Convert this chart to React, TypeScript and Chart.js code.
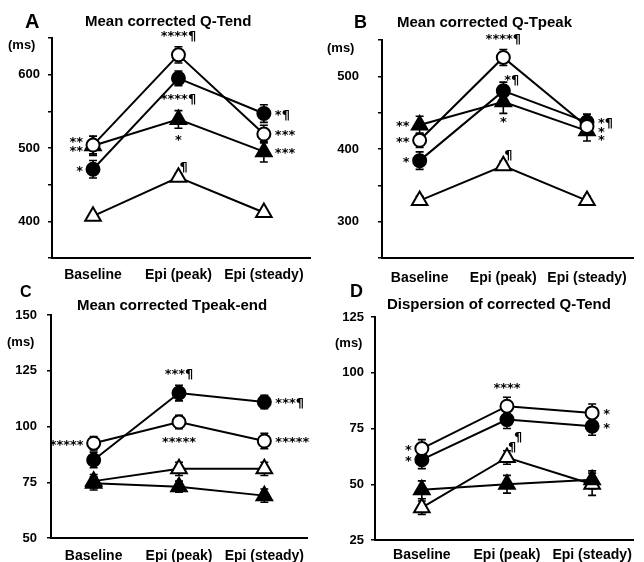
import React, { useEffect, useRef } from "react";
import { Chart, registerables } from "chart.js";

Chart.register(...registerables);

const categories = ["Baseline", "Epi (peak)", "Epi (steady)"];

// Series order in every panel: 0 open circle, 1 filled circle, 2 filled triangle, 3 open triangle

// A: Mean corrected Q-Tend (ms)
const qTendOpenCircle = [504, 627, 519];
const qTendOpenCircleErr = [12, 11, 12];
const qTendFilledCircle = [471, 595, 547];
const qTendFilledCircleErr = [12, 10, 12];
const qTendFilledTriangle = [503, 539, 495];
const qTendFilledTriangleErr = [13, 12, 14];
const qTendOpenTriangle = [407, 460, 412];
const qTendOpenTriangleErr = [4, 5, 4];
const qTendTickLabels = [400, 500, 600];
const qTendNotes = [
  { series: 0, cat: 1, text: "****¶", pos: "above" },
  { series: 1, cat: 1, text: "****¶", pos: "below" },
  { series: 2, cat: 1, text: "*", pos: "below" },
  { series: 0, cat: 0, text: "**", pos: "left-1" },
  { series: 2, cat: 0, text: "**", pos: "left+1" },
  { series: 1, cat: 0, text: "*", pos: "left" },
  { series: 3, cat: 1, text: "¶", pos: "upright" },
  { series: 1, cat: 2, text: "*¶", pos: "right" },
  { series: 0, cat: 2, text: "***", pos: "right" },
  { series: 2, cat: 2, text: "***", pos: "right" },
];

// B: Mean corrected Q-Tpeak (ms)
const qTpeakOpenCircle = [412, 526, 431];
const qTpeakOpenCircleErr = [10, 11, 10];
const qTpeakFilledCircle = [384, 480, 437];
const qTpeakFilledCircleErr = [12, 12, 11];
const qTpeakFilledTriangle = [433, 465, 425];
const qTpeakFilledTriangleErr = [12, 16, 14];
const qTpeakOpenTriangle = [329, 377, 329];
const qTpeakOpenTriangleErr = [6, 6, 6];
const qTpeakTickLabels = [300, 400, 500];
const qTpeakNotes = [
  { series: 0, cat: 1, text: "****¶", pos: "above" },
  { series: 1, cat: 1, text: "*¶", pos: "upright" },
  { series: 2, cat: 1, text: "*", pos: "below" },
  { series: 2, cat: 0, text: "**", pos: "left" },
  { series: 0, cat: 0, text: "**", pos: "left" },
  { series: 1, cat: 0, text: "*", pos: "left" },
  { series: 3, cat: 1, text: "¶", pos: "upright" },
  { series: 1, cat: 2, text: "*¶", pos: "right" },
  { series: 0, cat: 2, text: "*", pos: "right+1" },
  { series: 2, cat: 2, text: "*", pos: "right+2" },
];

// C: Mean corrected Tpeak-end (ms)
const tpeOpenCircle = [92.5, 102, 93.5];
const tpeOpenCircleErr = [3, 3, 3.5];
const tpeFilledCircle = [85, 115, 111];
const tpeFilledCircleErr = [3.5, 3.5, 3];
const tpeFilledTriangle = [74.5, 73, 69];
const tpeFilledTriangleErr = [3, 2.5, 3];
const tpeOpenTriangle = [75.5, 81, 81];
const tpeOpenTriangleErr = [3, 3, 3];
const tpeTickLabels = [50, 75, 100, 125, 150];
const tpeNotes = [
  { series: 1, cat: 1, text: "***¶", pos: "above" },
  { series: 1, cat: 2, text: "***¶", pos: "right" },
  { series: 0, cat: 1, text: "*****", pos: "below" },
  { series: 0, cat: 0, text: "*****", pos: "left" },
  { series: 0, cat: 2, text: "*****", pos: "right" },
];

// D: Dispersion of corrected Q-Tend (ms)
const dispOpenCircle = [66, 85, 82];
const dispOpenCircleErr = [4, 4, 4];
const dispFilledCircle = [61, 79, 76];
const dispFilledCircleErr = [4, 4, 4];
const dispFilledTriangle = [47.5, 50, 52];
const dispFilledTriangleErr = [4, 4, 4];
const dispOpenTriangle = [39.5, 62, 50];
const dispOpenTriangleErr = [3, 3, 5];
const dispTickLabels = [25, 50, 75, 100, 125];
const dispNotes = [
  { series: 0, cat: 1, text: "****", pos: "above" },
  { series: 0, cat: 2, text: "*", pos: "right" },
  { series: 1, cat: 2, text: "*", pos: "right" },
  { series: 0, cat: 0, text: "*", pos: "left" },
  { series: 1, cat: 0, text: "*", pos: "left" },
  { series: 1, cat: 1, text: "¶", pos: "downright" },
  { series: 3, cat: 1, text: "¶", pos: "upright" },
];

const markers = [
  { style: "circle", filled: false },
  { style: "circle", filled: true },
  { style: "triangle", filled: true },
  { style: "triangle", filled: false },
];

type Panel = {
  letter: string;
  title: string;
  series: { values: number[]; errors: number[] }[];
  yMin: number;
  yMax: number;
  yStep: number;
  yLabels: number[];
  notes: { series: number; cat: number; text: string; pos: string }[];
  box: { x: number; y: number; w: number; h: number };
  area: { left: number; top: number; right: number; bottom: number };
  xRange: [number, number];
  yPad: number;
  xPad: number;
  letterPos: { x: number; y: number; size: number };
  titlePos: { x: number; y: number };
  msPos: { x: number; y: number };
};

const panels: Panel[] = [
  {
    letter: "A",
    title: "Mean corrected Q-Tend",
    series: [
      { values: qTendOpenCircle, errors: qTendOpenCircleErr },
      { values: qTendFilledCircle, errors: qTendFilledCircleErr },
      { values: qTendFilledTriangle, errors: qTendFilledTriangleErr },
      { values: qTendOpenTriangle, errors: qTendOpenTriangleErr },
    ],
    yMin: 350, yMax: 650, yStep: 50, yLabels: qTendTickLabels, notes: qTendNotes,
    box: { x: 0, y: 0, w: 322, h: 290 },
    area: { left: 52, top: 38, right: 310, bottom: 258 },
    xRange: [-0.48, 2.54], yPad: 8, xPad: 9,
    letterPos: { x: 25, y: 28, size: 20 }, titlePos: { x: 85, y: 26 }, msPos: { x: 8, y: 49 },
  },
  {
    letter: "B",
    title: "Mean corrected Q-Tpeak",
    series: [
      { values: qTpeakOpenCircle, errors: qTpeakOpenCircleErr },
      { values: qTpeakFilledCircle, errors: qTpeakFilledCircleErr },
      { values: qTpeakFilledTriangle, errors: qTpeakFilledTriangleErr },
      { values: qTpeakOpenTriangle, errors: qTpeakOpenTriangleErr },
    ],
    yMin: 250, yMax: 550, yStep: 50, yLabels: qTpeakTickLabels, notes: qTpeakNotes,
    box: { x: 322, y: 0, w: 322, h: 290 },
    area: { left: 60, top: 40, right: 321, bottom: 258 },
    xRange: [-0.45, 2.55], yPad: 19, xPad: 12,
    letterPos: { x: 32, y: 28, size: 18 }, titlePos: { x: 75, y: 27 }, msPos: { x: 5, y: 52 },
  },
  {
    letter: "C",
    title: "Mean corrected Tpeak-end",
    series: [
      { values: tpeOpenCircle, errors: tpeOpenCircleErr },
      { values: tpeFilledCircle, errors: tpeFilledCircleErr },
      { values: tpeFilledTriangle, errors: tpeFilledTriangleErr },
      { values: tpeOpenTriangle, errors: tpeOpenTriangleErr },
    ],
    yMin: 50, yMax: 150, yStep: 25, yLabels: tpeTickLabels, notes: tpeNotes,
    box: { x: 0, y: 280, w: 322, h: 282 },
    area: { left: 51, top: 35, right: 307, bottom: 258 },
    xRange: [-0.5, 2.5], yPad: 10, xPad: 10,
    letterPos: { x: 20, y: 17, size: 16 }, titlePos: { x: 77, y: 30 }, msPos: { x: 7, y: 66 },
  },
  {
    letter: "D",
    title: "Dispersion of corrected Q-Tend",
    series: [
      { values: dispOpenCircle, errors: dispOpenCircleErr },
      { values: dispFilledCircle, errors: dispFilledCircleErr },
      { values: dispFilledTriangle, errors: dispFilledTriangleErr },
      { values: dispOpenTriangle, errors: dispOpenTriangleErr },
    ],
    yMin: 25, yMax: 125, yStep: 25, yLabels: dispTickLabels, notes: dispNotes,
    box: { x: 322, y: 280, w: 322, h: 282 },
    area: { left: 53, top: 37, right: 313, bottom: 260 },
    xRange: [-0.55, 2.48], yPad: 7, xPad: 7,
    letterPos: { x: 28, y: 17, size: 18 }, titlePos: { x: 65, y: 29 }, msPos: { x: 13, y: 67 },
  },
];

const FONT = "'Liberation Sans', Arial, sans-serif";

function noteOffset(pos: string): [number, number, CanvasTextAlign] {
  const m = pos.match(/^([a-z]+)([+-]\d+)?$/);
  const side = m ? m[1] : pos;
  const shift = m && m[2] ? parseInt(m[2], 10) * 4 : 0;
  switch (side) {
    case "above": return [0, -20 + shift, "center"];
    case "below": return [0, 19 + shift, "center"];
    case "left": return [-10, shift, "right"];
    case "right": return [11, shift, "left"];
    case "upright": return [1, -12 + shift, "left"];
    case "downright": return [7, 16 + shift, "left"];
    default: return [0, shift, "center"];
  }
}

function makePlugin(p: Panel) {
  return {
    id: "decor" + p.letter,
    beforeDatasetsDraw(chart: any) {
      const ctx = chart.ctx;
      const xs = chart.scales.x;
      const ys = chart.scales.y;
      ctx.save();
      ctx.strokeStyle = "#000";
      ctx.lineWidth = 1.6;
      p.series.forEach((s) => {
        s.values.forEach((v, j) => {
          const e = s.errors[j];
          const x = xs.getPixelForValue(j);
          const y1 = ys.getPixelForValue(v + e);
          const y2 = ys.getPixelForValue(v - e);
          ctx.beginPath();
          ctx.moveTo(x, y1);
          ctx.lineTo(x, y2);
          ctx.moveTo(x - 4, y1);
          ctx.lineTo(x + 4, y1);
          ctx.moveTo(x - 4, y2);
          ctx.lineTo(x + 4, y2);
          ctx.stroke();
        });
      });
      ctx.restore();
    },
    afterDraw(chart: any) {
      const ctx = chart.ctx;
      const xs = chart.scales.x;
      const ys = chart.scales.y;
      ctx.save();
      ctx.fillStyle = "#000";
      ctx.textBaseline = "alphabetic";
      ctx.textAlign = "left";
      ctx.font = `bold ${p.letterPos.size}px ${FONT}`;
      ctx.fillText(p.letter, p.letterPos.x, p.letterPos.y);
      ctx.font = `bold 15px ${FONT}`;
      ctx.fillText(p.title, p.titlePos.x, p.titlePos.y);
      ctx.font = `bold 13px ${FONT}`;
      ctx.fillText("(ms)", p.msPos.x, p.msPos.y);
      ctx.font = `bold 13px 'DejaVu Sans', sans-serif`;
      ctx.textBaseline = "middle";
      p.notes.forEach((n) => {
        const s = p.series[n.series];
        const x = xs.getPixelForValue(n.cat);
        const y = ys.getPixelForValue(s.values[n.cat]);
        const [dx, dy, align] = noteOffset(n.pos);
        ctx.textAlign = align;
        ctx.fillText(n.text, x + dx, y + dy + 2);
      });
      ctx.restore();
    },
  };
}

function PanelChart({ p }: { p: Panel }) {
  const ref = useRef<HTMLCanvasElement | null>(null);
  useEffect(() => {
    if (!ref.current) return;
    const datasets = p.series.map((s, i) => ({
      label: String(i),
      data: s.values.map((v, j) => ({ x: j, y: v })),
      borderColor: "#000",
      borderWidth: 2,
      pointStyle: markers[i].style,
      pointRadius: markers[i].style === "triangle" ? 9 : 6.5,
      pointBorderWidth: 2,
      pointBorderColor: "#000",
      pointBackgroundColor: markers[i].filled ? "#000" : "#fff",
      fill: false,
      tension: 0,
    }));
    const chart = new Chart(ref.current, {
      type: "line",
      data: { datasets } as any,
      plugins: [makePlugin(p)],
      options: {
        animation: false,
        responsive: false,
        devicePixelRatio: 1,
        layout: {
          padding: { left: 0, top: p.area.top, right: p.box.w - p.area.right, bottom: 0 },
        },
        plugins: { legend: { display: false }, tooltip: { enabled: false }, title: { display: false } },
        scales: {
          x: {
            type: "linear",
            min: p.xRange[0],
            max: p.xRange[1],
            afterBuildTicks: (s: any) => {
              s.ticks = categories.map((_, i) => ({ value: i }));
            },
            afterFit: (s: any) => {
              s.height = p.box.h - p.area.bottom;
            },
            ticks: {
              autoSkip: false,
              maxRotation: 0,
              minRotation: 0,
              padding: p.xPad,
              color: "#000",
              font: { family: FONT, size: 14, weight: "bold" },
              callback: (v: any) => categories[v] ?? "",
            },
            grid: { display: false, drawTicks: false },
            border: { display: true, color: "#000", width: 2 },
          },
          y: {
            type: "linear",
            min: p.yMin,
            max: p.yMax,
            afterFit: (s: any) => {
              s.width = p.area.left;
            },
            ticks: {
              stepSize: p.yStep,
              padding: p.yPad,
              color: "#000",
              font: { family: FONT, size: 13, weight: "bold" },
              callback: (v: any) => (p.yLabels.includes(Number(v)) ? String(v) : ""),
            },
            grid: { display: true, drawOnChartArea: false, drawTicks: true, tickLength: 4, color: "#000", lineWidth: 1.5 },
            border: { display: true, color: "#000", width: 2 },
          },
        },
      } as any,
    });
    return () => chart.destroy();
  }, [p]);
  return (
    <canvas
      ref={ref}
      width={p.box.w}
      height={p.box.h}
      style={{ position: "absolute", left: p.box.x, top: p.box.y, width: p.box.w, height: p.box.h }}
    />
  );
}

export default function App() {
  return (
    <div style={{ position: "absolute", left: 0, top: 0, width: 644, height: 562, background: "#fff", overflow: "hidden" }}>
      {panels.map((p) => (
        <PanelChart key={p.letter} p={p} />
      ))}
    </div>
  );
}
